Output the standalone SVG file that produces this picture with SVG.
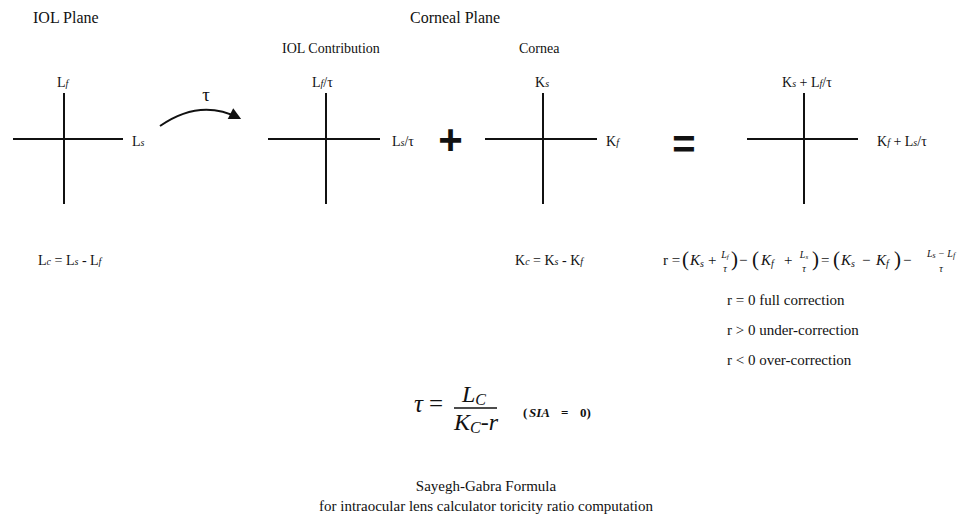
<svg xmlns="http://www.w3.org/2000/svg" width="971" height="515" viewBox="0 0 971 515">
<style>
text{font-family:"Liberation Serif","Times New Roman",serif;fill:#111;}
.t16{font-size:16px;}
.t14{font-size:14px;}
.t15{font-size:15px;}
.sub{font-size:10px;font-style:italic;}
.ax{stroke:#111;stroke-width:2;fill:none;}
.it{font-style:italic;}
.big{font-family:"Liberation Sans",Arial,sans-serif;font-weight:bold;}
.fr{font-size:10px;font-style:italic;}
.par{font-size:21px;}
</style>
<defs>
<marker id="ah" viewBox="0 0 10 10" refX="8" refY="5" markerWidth="7" markerHeight="6" orient="auto" markerUnits="strokeWidth">
<path d="M0,0 L10,5 L0,10 z" fill="#111"/>
</marker>
</defs>
<rect width="971" height="515" fill="#fff"/>

<g id="headings">
<text class="t16" x="33" y="23">IOL Plane</text>
<text class="t16" x="410" y="23">Corneal Plane</text>
<text class="t14" x="282" y="53">IOL Contribution</text>
<text class="t14" x="519" y="53">Cornea</text>
</g>

<g id="iol-plane">
<line class="ax" x1="64" y1="93" x2="64" y2="204"/>
<line class="ax" x1="13" y1="139" x2="123" y2="139"/>
<text class="t14" x="57" y="87">L<tspan class="sub">f</tspan></text>
<text class="t14" x="132" y="146">L<tspan class="sub">s</tspan></text>
</g>

<g id="iol-contribution">
<line class="ax" x1="326" y1="93" x2="326" y2="204"/>
<line class="ax" x1="268" y1="139" x2="380" y2="139"/>
<text class="t14" x="312" y="87">L<tspan class="sub">f</tspan>/τ</text>
<text class="t14" x="392" y="146">L<tspan class="sub">s</tspan>/τ</text>
</g>

<g id="plus">
<text class="big" x="450.5" y="154" font-size="42" text-anchor="middle">+</text>
</g>

<g id="cornea">
<line class="ax" x1="543" y1="93" x2="543" y2="204"/>
<line class="ax" x1="485" y1="139" x2="597" y2="139"/>
<text class="t14" x="535" y="87">K<tspan class="sub">s</tspan></text>
<text class="t14" x="606" y="146">K<tspan class="sub">f</tspan></text>
</g>

<g id="equals">
<text class="big" x="684" y="158" font-size="40" text-anchor="middle">=</text>
</g>

<g id="result">
<line class="ax" x1="804" y1="93" x2="804" y2="204"/>
<line class="ax" x1="747" y1="139" x2="858" y2="139"/>
<text class="t14" x="782" y="87">K<tspan class="sub">s</tspan> + L<tspan class="sub">f</tspan>/τ</text>
<text class="t14" x="877" y="146">K<tspan class="sub">f</tspan> + L<tspan class="sub">s</tspan>/τ</text>
</g>

<g id="connectors">
<path class="ax" d="M160,126 Q200,98 239,118" marker-end="url(#ah)"/>
<text x="206" y="101" font-size="19" text-anchor="middle">τ</text>
</g>

<g id="lens-cyl">
<text class="t14" x="38" y="265">L<tspan class="sub">c</tspan> = L<tspan class="sub">s</tspan> - L<tspan class="sub">f</tspan></text>
</g>

<g id="cornea-cyl">
<text class="t14" x="515" y="265">K<tspan class="sub">c</tspan> = K<tspan class="sub">s</tspan> - K<tspan class="sub">f</tspan></text>
</g>

<g id="r-formula" font-size="15">
<text x="663" y="265">r =</text>
<text class="par" x="682" y="266">(</text>
<text class="it" x="690" y="265">K<tspan font-size="10" dy="2">s</tspan></text>
<text x="708" y="265">+</text>
<text class="fr" x="725" y="258" text-anchor="middle">L<tspan font-size="7" dy="1">f</tspan></text>
<text class="fr" x="725" y="272" text-anchor="middle">τ</text>
<text class="par" x="731" y="266">)</text>
<text x="739" y="265">−</text>
<text class="par" x="752" y="266">(</text>
<text class="it" x="761" y="265">K<tspan font-size="10" dy="2">f</tspan></text>
<text x="784" y="265">+</text>
<text class="fr" x="804" y="258" text-anchor="middle">L<tspan font-size="7" dy="1">s</tspan></text>
<text class="fr" x="804" y="272" text-anchor="middle">τ</text>
<text class="par" x="812" y="266">)</text>
<text x="821" y="265">=</text>
<text class="par" x="833" y="266">(</text>
<text class="it" x="841" y="265">K<tspan font-size="10" dy="2">s</tspan></text>
<text x="862" y="265">−</text>
<text class="it" x="876" y="265">K<tspan font-size="10" dy="2">f</tspan></text>
<text class="par" x="894" y="266">)</text>
<text x="903" y="265">−</text>
<text class="fr" x="941" y="257" text-anchor="middle" font-size="11">L<tspan font-size="8" dy="1">s</tspan><tspan dy="-1"> − L</tspan><tspan font-size="8" dy="1">f</tspan></text>
<text class="fr" x="941" y="272" text-anchor="middle">τ</text>
</g>

<g id="r-cases">
<text class="t15" x="727" y="305">r = 0 full correction</text>
<text class="t15" x="727" y="335">r &gt; 0 under-correction</text>
<text class="t15" x="727" y="365">r &lt; 0 over-correction</text>
</g>

<g id="tau-formula">
<text class="it" x="414" y="412" font-size="25">τ</text>
<text x="429" y="412" font-size="25">=</text>
<text class="it" x="462" y="402" font-size="24">L<tspan font-size="16" dy="3">C</tspan></text>
<line x1="454" y1="408" x2="497" y2="408" stroke="#111" stroke-width="1.3"/>
<text class="it" x="454" y="430" font-size="24">K<tspan font-size="16" dy="3">C</tspan><tspan dy="-3">-r</tspan></text>
<text font-size="13" font-weight="bold" y="417"><tspan x="523">(</tspan><tspan x="529" font-style="italic">SIA</tspan><tspan x="561">=</tspan><tspan x="580">0)</tspan></text>
</g>

<g id="caption">
<text class="t15" x="486" y="491" text-anchor="middle">Sayegh-Gabra Formula</text>
<text class="t15" x="486" y="511" text-anchor="middle">for intraocular lens calculator toricity ratio computation</text>
</g>
</svg>
